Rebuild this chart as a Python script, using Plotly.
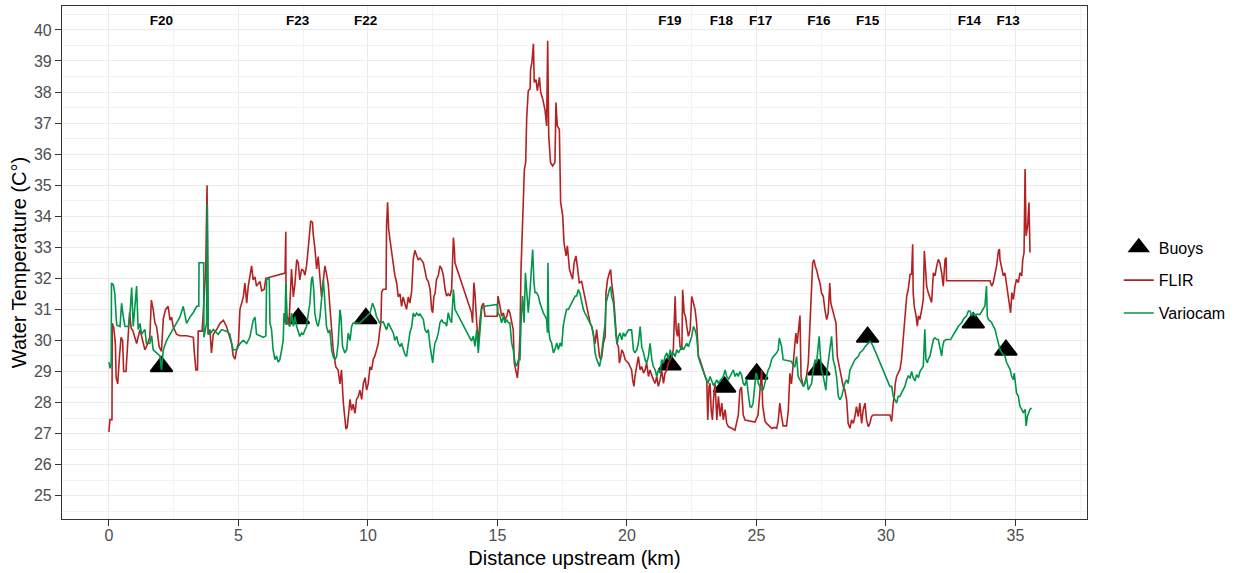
import plotly.graph_objects as go

# ---------------- data ----------------
BUOY_NAMES = ["F20", "F23", "F22", "F19", "F18", "F17", "F16", "F15", "F14", "F13"]
BUOY_KM = [2.03, 7.31, 9.92, 21.66, 23.77, 25.01, 27.41, 29.29, 33.37, 34.63]
BUOY_TEMP = [29.16, 30.71, 30.71, 29.22, 28.50, 28.92, 29.06, 30.11, 30.57, 29.69]
LABEL_KM = [2.03, 7.29, 9.91, 21.66, 23.65, 25.16, 27.41, 29.29, 33.22, 34.72]
LABEL_TEMP = 40.27

FLIR = [
    (0.00, 27.05), (0.04, 27.45), (0.12, 27.45), (0.13, 30.55), (0.19, 30.4), (0.25, 29.9),
    (0.28, 28.8), (0.34, 28.6), (0.41, 29.5), (0.47, 30.1), (0.53, 30.0), (0.57, 29.0),
    (0.66, 29.0), (0.73, 30.1), (0.80, 30.9), (0.86, 30.4), (0.93, 30.3), (1.00, 30.1),
    (1.07, 29.9), (1.20, 30.35), (1.33, 29.9), (1.39, 29.7), (1.45, 29.8), (1.58, 30.1),
    (1.64, 31.3), (1.71, 31.0), (1.78, 30.55), (1.84, 30.45), (1.94, 29.8), (2.03, 29.65),
    (2.10, 30.7), (2.19, 31.0), (2.29, 31.1), (2.36, 30.65), (2.42, 30.75), (2.48, 30.45),
    (2.61, 30.2), (2.74, 30.15), (3.00, 30.15), (3.26, 30.1), (3.30, 29.6), (3.36, 29.05),
    (3.42, 29.05), (3.45, 30.3), (3.60, 30.3), (3.74, 32.3), (3.79, 35.0), (3.83, 30.2),
    (3.90, 30.35), (3.96, 29.6), (4.03, 30.2), (4.16, 30.35), (4.29, 30.55), (4.42, 30.65),
    (4.54, 30.45), (4.67, 30.1), (4.74, 29.9), (4.80, 29.5), (4.87, 29.4), (4.93, 29.7),
    (5.00, 29.9), (5.06, 31.0), (5.12, 31.2), (5.19, 31.4), (5.25, 31.85), (5.32, 31.2),
    (5.38, 31.75), (5.44, 32.05), (5.51, 32.4), (5.57, 31.95), (5.64, 32.05), (5.70, 31.75),
    (5.83, 31.9), (5.90, 31.6), (6.00, 31.65), (6.06, 32.0), (6.80, 32.17), (6.83, 33.5),
    (6.84, 30.5), (6.88, 30.8), (6.95, 30.5), (7.05, 32.3), (7.12, 31.4), (7.18, 31.8),
    (7.25, 32.6), (7.31, 32.5), (7.37, 31.95), (7.44, 32.3), (7.51, 32.25), (7.57, 32.1),
    (7.63, 32.4), (7.70, 33.0), (7.79, 33.85), (7.86, 33.8), (7.89, 33.4), (7.95, 33.0),
    (8.02, 32.3), (8.08, 32.7), (8.15, 31.8), (8.21, 31.4), (8.28, 31.95), (8.34, 32.4),
    (8.40, 32.15), (8.47, 31.8), (8.53, 31.1), (8.60, 30.35), (8.66, 29.7), (8.76, 29.15),
    (8.85, 29.05), (8.92, 28.6), (8.98, 29.05), (9.05, 28.0), (9.11, 27.55), (9.15, 27.15),
    (9.20, 27.2), (9.24, 27.55), (9.31, 28.1), (9.37, 27.75), (9.43, 27.95), (9.50, 27.65),
    (9.56, 28.1), (9.63, 28.2), (9.69, 28.4), (9.76, 28.1), (9.82, 28.6), (9.89, 28.8),
    (9.95, 28.4), (10.01, 28.6), (10.08, 29.15), (10.14, 29.05), (10.21, 29.4), (10.27, 29.5),
    (10.33, 29.7), (10.40, 29.9), (10.46, 30.35), (10.50, 30.55), (10.53, 31.55), (10.59, 31.65),
    (10.70, 31.65), (10.72, 33.7), (10.76, 34.45), (10.80, 33.6), (10.85, 33.25), (10.91, 32.9),
    (10.98, 32.4), (11.04, 32.1), (11.11, 31.85), (11.17, 31.4), (11.24, 31.5), (11.30, 31.1),
    (11.36, 31.4), (11.43, 31.2), (11.49, 31.0), (11.56, 31.4), (11.62, 31.2), (11.69, 31.6),
    (11.75, 32.6), (11.81, 32.9), (11.88, 32.75), (11.94, 32.6), (12.01, 32.65), (12.14, 32.5),
    (12.27, 31.97), (12.33, 31.9), (12.40, 31.64), (12.46, 31.0), (12.50, 30.89), (12.55, 31.43),
    (12.59, 31.5), (12.65, 31.97), (12.72, 32.1), (12.78, 32.4), (12.85, 32.3), (12.91, 32.1),
    (12.98, 31.64), (13.04, 31.43), (13.10, 31.5), (13.17, 31.43), (13.23, 31.64), (13.27, 33.15),
    (13.30, 33.31), (13.34, 32.9), (13.36, 32.5), (14.00, 30.89), (14.04, 30.57), (14.09, 31.86),
    (14.13, 31.54), (14.20, 30.57), (14.26, 29.92), (14.33, 30.67), (14.39, 31.1), (14.46, 31.2),
    (14.52, 30.78), (14.99, 30.78), (15.02, 31.43), (15.10, 31.1), (15.16, 30.78), (15.23, 30.89),
    (15.29, 30.67), (15.36, 30.78), (15.42, 31.0), (15.48, 30.89), (15.55, 30.57), (15.61, 30.35),
    (15.65, 29.28), (15.72, 28.95), (15.77, 28.79), (15.82, 29.28), (15.87, 30.14), (15.91, 32.29),
    (15.96, 33.58), (16.00, 34.12), (16.04, 35.51), (16.09, 35.73), (16.13, 37.18), (16.19, 38.04),
    (16.26, 38.1), (16.28, 38.74), (16.33, 38.95), (16.39, 39.55), (16.42, 38.31), (16.49, 38.4),
    (16.54, 38.04), (16.62, 38.47), (16.67, 37.99), (16.75, 37.77), (16.84, 37.4), (16.90, 36.91),
    (16.94, 39.65), (16.98, 36.59), (17.05, 35.73), (17.13, 35.62), (17.22, 35.73), (17.26, 37.66),
    (17.31, 36.91), (17.39, 36.8), (17.44, 34.44), (17.52, 34.01), (17.57, 33.15), (17.65, 32.72),
    (17.70, 33.05), (17.78, 32.29), (17.84, 32.1), (17.90, 31.97), (17.96, 32.5), (18.03, 32.72),
    (18.10, 32.29), (18.16, 31.86), (18.25, 31.9), (18.32, 31.63), (18.41, 31.2), (18.51, 30.88),
    (18.58, 30.56), (18.64, 30.45), (18.70, 30.24), (18.77, 29.9), (18.83, 30.35), (18.90, 29.8),
    (18.94, 29.48), (18.99, 29.38), (19.03, 29.48), (19.09, 29.91), (19.16, 30.13), (19.19, 31.53),
    (19.25, 31.96), (19.32, 32.17), (19.37, 32.28), (19.41, 31.85), (19.48, 31.42), (19.52, 30.99),
    (19.57, 30.45), (19.61, 29.91), (19.67, 29.8), (19.71, 29.27), (19.76, 29.48), (19.80, 29.7),
    (19.86, 29.6), (19.93, 29.38), (20.06, 29.27), (20.12, 29.16), (20.18, 29.05), (20.22, 28.73),
    (20.27, 28.52), (20.31, 28.84), (20.38, 29.27), (20.44, 29.48), (20.51, 29.05), (20.57, 29.16),
    (20.64, 28.95), (20.70, 29.05), (20.76, 29.27), (20.83, 28.84), (20.89, 29.05), (20.96, 28.84),
    (21.02, 28.73), (21.09, 28.62), (21.15, 28.84), (21.21, 28.52), (21.28, 28.73), (21.34, 29.05),
    (21.41, 28.62), (21.47, 28.95), (21.54, 29.05), (21.60, 29.27), (21.67, 29.38), (21.73, 29.48),
    (21.79, 29.7), (21.86, 31.42), (21.90, 30.34), (21.95, 30.13), (21.99, 30.56), (22.05, 29.8),
    (22.12, 29.7), (22.15, 31.63), (22.21, 30.88), (22.26, 30.77), (22.31, 30.45), (22.37, 30.13),
    (22.44, 30.34), (22.50, 31.42), (22.57, 31.2), (22.63, 30.99), (22.69, 30.56), (22.76, 29.48),
    (22.82, 29.38), (22.89, 29.16), (22.95, 29.05), (23.02, 28.84), (23.08, 28.73), (23.12, 27.44),
    (23.17, 28.52), (23.21, 28.62), (23.25, 27.77), (23.30, 27.44), (23.34, 28.09), (23.40, 28.62),
    (23.47, 27.44), (23.53, 28.2), (23.60, 27.55), (23.66, 27.98), (23.72, 27.44), (23.79, 27.77),
    (23.85, 27.33), (23.92, 27.22), (24.05, 27.17), (24.17, 27.11), (24.30, 27.6), (24.36, 28.4),
    (24.42, 28.5), (24.49, 27.6), (24.56, 27.44), (24.75, 27.4), (24.94, 27.37), (25.06, 27.6),
    (25.14, 28.4), (25.20, 29.05), (25.24, 27.9), (25.33, 27.4), (25.39, 27.33), (25.52, 27.22),
    (25.59, 27.17), (25.71, 27.2), (25.78, 27.17), (25.84, 27.4), (25.90, 27.98), (25.97, 27.55),
    (26.03, 27.25), (26.16, 27.25), (26.23, 27.76), (26.29, 28.94), (26.35, 28.6), (26.42, 29.26),
    (26.49, 30.0), (26.52, 30.24), (26.57, 29.9), (26.65, 30.67), (26.68, 30.8), (26.72, 28.84),
    (26.75, 28.7), (26.81, 28.52), (26.87, 28.62), (26.93, 28.84), (27.00, 29.27), (27.04, 30.24),
    (27.09, 30.88), (27.13, 31.74), (27.17, 32.5), (27.22, 32.6), (27.27, 32.39), (27.32, 32.28),
    (27.38, 32.06), (27.45, 31.85), (27.51, 31.53), (27.58, 31.42), (27.64, 30.99), (27.71, 30.67),
    (27.77, 30.88), (27.83, 31.85), (27.87, 31.2), (27.94, 30.99), (28.00, 30.78), (28.07, 30.56),
    (28.12, 29.48), (28.17, 29.27), (28.22, 29.05), (28.29, 28.73), (28.35, 28.52), (28.41, 28.41),
    (28.48, 28.09), (28.54, 27.33), (28.61, 27.17), (28.67, 27.44), (28.74, 27.33), (28.80, 27.55),
    (28.86, 27.87), (28.93, 27.55), (28.99, 27.98), (29.06, 27.33), (29.12, 27.76), (29.19, 27.98),
    (29.25, 27.44), (29.32, 27.22), (29.38, 27.33), (29.44, 27.55), (29.51, 27.6), (30.15, 27.6),
    (30.22, 27.39), (30.28, 27.98), (30.32, 28.2), (30.36, 28.62), (30.41, 28.84), (30.47, 28.95),
    (30.54, 29.07), (30.60, 29.39), (30.67, 30.14), (30.73, 30.89), (30.80, 31.43), (30.86, 31.64),
    (30.93, 32.13), (30.99, 32.13), (31.03, 33.1), (31.05, 31.54), (31.09, 31.11), (31.16, 30.79),
    (31.21, 30.46), (31.25, 30.79), (31.31, 30.68), (31.38, 31.0), (31.44, 31.32), (31.48, 32.88),
    (31.53, 32.29), (31.57, 31.75), (31.63, 31.54), (31.70, 31.32), (31.76, 31.22), (31.83, 32.18),
    (31.89, 32.08), (31.96, 32.4), (32.02, 32.61), (32.08, 32.5), (32.15, 32.18), (32.21, 31.75),
    (32.28, 32.61), (32.32, 32.67), (32.34, 31.92), (34.01, 31.92), (34.08, 31.75), (34.14, 31.86),
    (34.21, 32.18), (34.27, 32.4), (34.34, 32.88), (34.38, 32.94), (34.40, 32.61), (34.47, 32.29),
    (34.53, 32.08), (34.59, 32.18), (34.66, 31.75), (34.72, 31.54), (34.76, 31.22), (34.81, 30.89),
    (34.86, 31.54), (34.92, 31.32), (34.98, 31.75), (35.04, 31.97), (35.11, 31.86), (35.17, 32.18),
    (35.24, 32.08), (35.28, 32.61), (35.33, 32.83), (35.37, 35.52), (35.41, 33.37), (35.47, 33.7),
    (35.52, 34.44), (35.56, 32.83),
]

VARIOCAM = [
    (0.00, 29.3), (0.05, 29.1), (0.09, 29.25), (0.10, 31.85), (0.17, 31.8), (0.23, 31.5),
    (0.27, 30.9), (0.30, 30.5), (0.43, 30.45), (0.49, 31.2), (0.55, 30.8), (0.62, 30.45),
    (0.75, 30.45), (0.81, 30.8), (0.88, 31.7), (0.94, 30.45), (1.07, 31.75), (1.13, 30.35),
    (1.20, 30.55), (1.26, 30.2), (1.39, 30.35), (1.45, 29.9), (1.58, 29.9), (1.65, 30.15),
    (1.71, 29.7), (1.84, 29.6), (1.97, 29.5), (2.03, 29.05), (2.10, 29.7), (2.23, 30.0),
    (2.36, 30.2), (2.48, 30.35), (2.61, 30.55), (2.74, 30.75), (2.87, 31.1), (3.00, 30.55),
    (3.13, 30.75), (3.26, 30.9), (3.39, 31.1), (3.47, 31.1), (3.48, 32.5), (3.66, 32.5),
    (3.67, 30.1), (3.77, 30.55), (3.80, 34.4), (3.84, 30.2), (3.90, 30.2), (4.03, 30.35),
    (4.22, 30.2), (4.35, 30.35), (4.54, 30.3), (4.67, 30.2), (4.74, 29.9), (4.80, 29.7),
    (4.93, 29.7), (5.06, 29.9), (5.19, 30.0), (5.32, 29.9), (5.44, 30.1), (5.57, 30.65),
    (5.64, 30.75), (5.70, 30.2), (5.83, 30.15), (5.96, 30.1), (6.06, 30.15), (6.09, 31.96),
    (6.19, 32.0), (6.22, 30.56), (6.28, 30.35), (6.34, 29.7), (6.41, 29.38), (6.47, 29.5),
    (6.54, 29.3), (6.60, 29.38), (6.67, 29.7), (6.73, 30.0), (6.76, 30.88), (6.80, 30.56),
    (6.83, 31.85), (6.89, 30.56), (6.99, 30.45), (7.05, 30.88), (7.12, 30.45), (7.18, 30.77),
    (7.25, 30.45), (7.31, 30.24), (7.37, 30.13), (7.44, 30.24), (7.50, 30.18), (7.57, 30.34),
    (7.63, 30.45), (7.70, 30.88), (7.76, 31.2), (7.82, 31.96), (7.86, 32.06), (7.91, 31.63),
    (7.95, 30.88), (8.02, 30.56), (8.08, 30.45), (8.15, 30.77), (8.21, 31.42), (8.28, 31.96),
    (8.34, 31.2), (8.40, 30.45), (8.47, 30.24), (8.53, 30.34), (8.60, 29.7), (8.66, 29.48),
    (8.73, 29.38), (8.79, 29.48), (8.85, 29.91), (8.92, 30.99), (8.96, 30.77), (9.02, 29.8),
    (9.11, 29.6), (9.18, 29.7), (9.24, 30.24), (9.31, 30.0), (9.37, 30.45), (9.43, 30.56),
    (9.56, 30.56), (9.69, 30.56), (9.82, 30.67), (9.95, 30.77), (10.08, 30.88), (10.18, 31.2),
    (10.27, 30.99), (10.33, 30.77), (10.40, 30.67), (10.46, 30.56), (10.59, 30.6), (10.72, 30.34),
    (10.79, 30.56), (10.85, 30.45), (10.98, 30.24), (11.04, 30.0), (11.11, 30.13), (11.17, 29.91),
    (11.24, 29.8), (11.30, 29.91), (11.36, 29.7), (11.43, 29.54), (11.49, 29.48), (11.56, 29.91),
    (11.62, 30.24), (11.69, 30.45), (11.75, 30.88), (11.81, 30.77), (11.88, 30.88), (11.94, 30.82),
    (12.01, 30.85), (12.14, 30.67), (12.20, 30.35), (12.27, 30.25), (12.33, 30.35), (12.40, 29.81),
    (12.46, 29.38), (12.50, 29.28), (12.55, 29.7), (12.59, 29.92), (12.65, 30.03), (12.72, 30.25),
    (12.78, 30.57), (12.85, 30.67), (12.91, 30.57), (12.98, 30.57), (13.04, 30.46), (13.10, 30.89),
    (13.17, 30.67), (13.23, 30.57), (13.30, 31.64), (13.36, 31.0), (14.00, 29.98), (14.07, 30.14),
    (14.13, 29.81), (14.20, 30.35), (14.26, 29.6), (14.33, 30.35), (14.39, 31.0), (14.46, 31.1),
    (14.52, 31.1), (14.99, 31.16), (15.02, 30.89), (15.10, 30.78), (15.16, 30.57), (15.23, 30.78),
    (15.29, 30.57), (15.36, 30.67), (15.42, 30.57), (15.48, 30.57), (15.55, 29.92), (15.61, 29.7),
    (15.68, 29.28), (15.74, 29.17), (15.81, 29.38), (15.87, 29.38), (15.91, 30.57), (15.97, 31.43),
    (16.03, 30.57), (16.08, 32.18), (16.13, 31.43), (16.19, 30.89), (16.26, 31.64), (16.32, 32.5),
    (16.36, 32.93), (16.41, 31.86), (16.45, 31.54), (16.51, 31.54), (16.58, 31.43), (16.64, 31.21),
    (16.71, 31.0), (16.77, 30.89), (16.84, 30.78), (16.90, 30.67), (16.93, 30.25), (16.95, 32.5),
    (16.98, 30.35), (17.03, 30.03), (17.09, 29.92), (17.16, 29.6), (17.22, 29.71), (17.29, 29.92),
    (17.35, 29.71), (17.42, 29.92), (17.48, 29.81), (17.54, 30.46), (17.61, 30.78), (17.67, 31.0),
    (17.74, 31.0), (17.80, 31.1), (17.87, 31.21), (17.93, 31.32), (18.00, 31.43), (18.06, 31.43),
    (18.12, 31.64), (18.19, 31.5), (18.25, 31.2), (18.32, 30.99), (18.38, 30.88), (18.45, 30.77),
    (18.51, 30.67), (18.58, 30.56), (18.64, 30.45), (18.70, 30.24), (18.77, 29.6), (18.83, 29.4),
    (18.90, 29.27), (18.94, 29.16), (18.99, 29.38), (19.03, 29.7), (19.09, 30.13), (19.16, 30.56),
    (19.19, 31.2), (19.25, 31.42), (19.32, 31.63), (19.37, 31.74), (19.41, 31.42), (19.48, 31.2),
    (19.54, 30.56), (19.58, 30.13), (19.63, 29.91), (19.67, 30.13), (19.73, 30.24), (19.80, 30.02),
    (19.86, 30.24), (19.93, 30.13), (19.99, 30.24), (20.06, 30.34), (20.12, 30.34), (20.18, 30.34),
    (20.25, 29.7), (20.31, 29.6), (20.38, 29.7), (20.44, 29.91), (20.51, 30.45), (20.57, 29.8),
    (20.64, 29.6), (20.70, 29.38), (20.76, 29.27), (20.83, 29.48), (20.89, 29.91), (20.96, 29.38),
    (21.02, 29.16), (21.09, 29.05), (21.15, 28.84), (21.21, 29.05), (21.28, 28.95), (21.34, 29.38),
    (21.41, 29.27), (21.47, 29.48), (21.54, 29.6), (21.60, 29.38), (21.67, 29.7), (21.73, 29.48),
    (21.79, 29.6), (21.86, 29.48), (21.92, 29.7), (21.99, 29.6), (22.05, 29.7), (22.12, 29.8),
    (22.18, 29.7), (22.24, 29.8), (22.31, 29.91), (22.37, 29.8), (22.44, 30.02), (22.50, 30.13),
    (22.57, 30.45), (22.63, 30.34), (22.69, 30.13), (22.76, 29.48), (22.82, 29.3), (22.89, 29.16),
    (22.95, 29.0), (23.02, 28.84), (23.08, 28.7), (23.14, 28.65), (23.21, 28.84), (23.27, 28.73),
    (23.34, 28.55), (23.40, 28.62), (23.47, 28.73), (23.53, 28.62), (23.72, 28.84), (23.79, 29.05),
    (23.85, 28.84), (23.92, 28.75), (23.98, 28.84), (24.05, 28.95), (24.11, 29.05), (24.17, 28.84),
    (24.24, 28.95), (24.30, 28.84), (24.36, 29.0), (24.42, 28.9), (24.49, 28.62), (24.55, 28.55),
    (24.62, 28.75), (24.68, 28.3), (24.75, 27.87), (24.81, 27.85), (24.87, 27.98), (24.94, 28.6),
    (24.98, 28.95), (25.03, 28.84), (25.07, 28.62), (25.13, 28.52), (25.20, 28.41), (25.26, 28.41),
    (25.33, 28.62), (25.39, 28.84), (25.45, 29.05), (25.52, 29.16), (25.58, 29.38), (25.65, 29.48),
    (25.78, 29.6), (25.84, 29.7), (25.88, 30.08), (25.97, 29.8), (26.03, 29.38), (26.35, 29.32),
    (26.42, 29.2), (26.48, 29.16), (26.55, 29.48), (26.61, 28.84), (26.68, 28.73), (26.74, 28.62),
    (26.81, 28.52), (26.87, 28.62), (26.93, 28.84), (27.00, 28.41), (27.06, 28.52), (27.13, 28.62),
    (27.19, 29.05), (27.26, 29.38), (27.32, 29.27), (27.38, 29.7), (27.42, 30.13), (27.47, 29.48),
    (27.51, 29.05), (27.58, 28.84), (27.64, 28.62), (27.68, 28.4), (27.73, 29.05), (27.77, 29.27),
    (27.83, 29.7), (27.90, 30.13), (27.96, 29.38), (28.03, 29.16), (28.09, 28.84), (28.16, 28.2),
    (28.22, 28.09), (28.29, 28.2), (28.35, 28.41), (28.41, 28.62), (28.48, 28.73), (28.54, 28.62),
    (28.61, 29.05), (28.67, 29.16), (28.74, 29.32), (28.80, 29.38), (28.86, 29.43), (28.93, 29.48),
    (28.99, 29.6), (29.06, 29.65), (29.12, 29.7), (29.19, 29.8), (29.25, 29.86), (29.32, 29.91),
    (29.38, 29.97), (29.44, 29.91), (29.51, 29.8), (30.15, 28.52), (30.22, 28.52), (30.28, 28.2),
    (30.34, 28.09), (30.41, 27.98), (30.47, 28.2), (30.54, 28.2), (30.60, 28.31), (30.67, 28.42),
    (30.73, 28.52), (30.80, 28.74), (30.86, 28.85), (30.93, 28.8), (30.99, 29.0), (31.05, 28.8),
    (31.12, 28.7), (31.18, 28.9), (31.25, 28.8), (31.31, 29.0), (31.38, 29.1), (31.44, 29.17),
    (31.50, 30.36), (31.54, 29.39), (31.60, 29.28), (31.63, 29.39), (31.70, 29.5), (31.76, 29.71),
    (31.83, 30.03), (31.89, 30.08), (31.96, 30.03), (32.02, 30.03), (32.08, 29.82), (32.15, 29.5),
    (32.19, 29.82), (32.24, 29.98), (32.32, 30.03), (32.50, 30.03), (32.57, 30.14), (32.66, 30.25),
    (32.73, 30.36), (32.79, 30.46), (32.86, 30.52), (32.92, 30.57), (32.99, 30.68), (33.11, 30.79),
    (33.18, 30.95), (33.24, 30.95), (33.31, 30.79), (33.37, 30.89), (33.44, 30.79), (33.50, 30.84),
    (33.63, 30.84), (33.76, 31.0), (33.82, 31.11), (33.88, 31.75), (33.91, 30.79), (33.95, 30.68),
    (34.08, 30.57), (34.14, 30.46), (34.21, 30.36), (34.27, 30.14), (34.34, 29.93), (34.40, 29.71),
    (34.47, 29.6), (34.59, 29.5), (34.66, 29.28), (34.72, 29.18), (34.79, 29.07), (34.85, 28.85),
    (34.92, 28.74), (34.95, 28.95), (34.98, 28.74), (35.04, 28.31), (35.11, 28.2), (35.17, 27.88),
    (35.24, 27.78), (35.30, 27.67), (35.37, 27.78), (35.41, 27.25), (35.46, 27.56), (35.50, 27.67),
    (35.56, 27.78), (35.62, 27.83),
]

X_TICKS = [0, 5, 10, 15, 20, 25, 30, 35]
Y_TICKS = list(range(25, 41))

FLIR_COLOR = "#B22222"
VARIO_COLOR = "#00964B"
FONT = "Liberation Sans, Arial, sans-serif"

fig = go.Figure()

fig.add_trace(go.Scatter(
    x=BUOY_KM, y=BUOY_TEMP, mode="markers", name="Buoys",
    text=BUOY_NAMES, legendgroup="b",
    marker=dict(symbol="triangle-up", size=19, color="black",
                line=dict(color="black", width=2)),
))
fig.add_trace(go.Scatter(
    x=[p[0] for p in FLIR], y=[p[1] for p in FLIR], mode="lines", name="FLIR",
    legendgroup="f", line=dict(color=FLIR_COLOR, width=1.6),
))
fig.add_trace(go.Scatter(
    x=[p[0] for p in VARIOCAM], y=[p[1] for p in VARIOCAM], mode="lines", name="Variocam",
    legendgroup="v", line=dict(color=VARIO_COLOR, width=1.6),
))
fig.add_trace(go.Scatter(
    x=LABEL_KM, y=[LABEL_TEMP] * len(LABEL_KM), mode="text", text=BUOY_NAMES,
    textfont=dict(family=FONT, size=13.5, color="black", weight="bold"),
    showlegend=False, hoverinfo="skip",
))

axis_common = dict(
    showline=True, mirror=True, linecolor="#333333", linewidth=1.1,
    showgrid=True, gridcolor="#EBEBEB", gridwidth=1.1,
    ticks="outside", ticklen=6, tickcolor="#333333", tickwidth=1.1,
    tickfont=dict(family=FONT, size=16, color="#4D4D4D"),
    zeroline=False,
)

fig.update_xaxes(
    range=[-1.81, 37.76], tickvals=X_TICKS, ticklabelstandoff=-4,
    minor=dict(dtick=2.5, tick0=0, showgrid=True, gridcolor="#F2F2F2", gridwidth=1),
    title=dict(text="Distance upstream (km)", font=dict(family=FONT, size=20, color="black"),
               standoff=7),
    **axis_common,
)
fig.update_yaxes(
    range=[24.25, 40.77], tickvals=Y_TICKS,
    minor=dict(dtick=0.5, tick0=0, showgrid=True, gridcolor="#F2F2F2", gridwidth=1),
    title=dict(text="Water Temperature (C°)", font=dict(family=FONT, size=20, color="black"),
               standoff=1),
    **axis_common,
)

fig.update_layout(
    width=1243, height=573,
    margin=dict(l=62, r=156, t=6, b=54),
    paper_bgcolor="white", plot_bgcolor="white",
    font=dict(family=FONT, color="black"),
    showlegend=True,
    legend=dict(x=1.031, xanchor="left", y=0.465, yanchor="middle",
                font=dict(family=FONT, size=16, color="black"),
                tracegroupgap=9, bgcolor="rgba(0,0,0,0)"),
)

fig.write_html("out.html")
